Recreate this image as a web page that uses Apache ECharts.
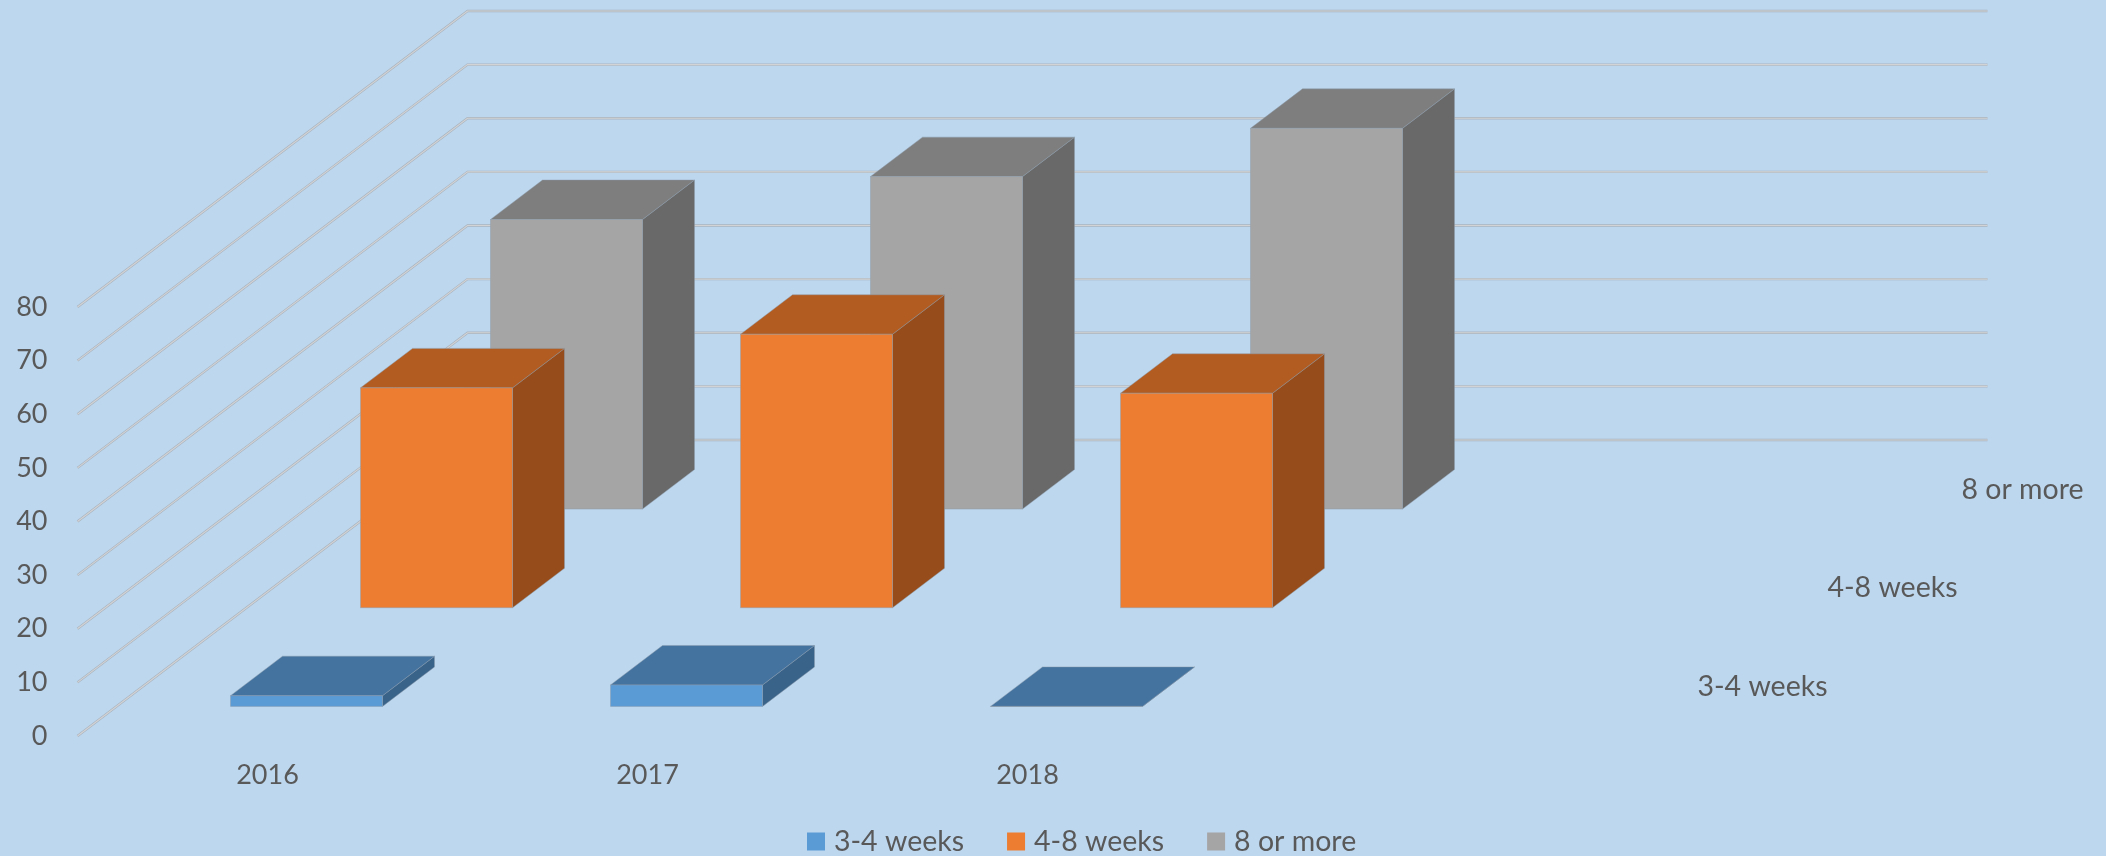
<!DOCTYPE html>
<html>
<head>
<meta charset="utf-8">
<title>Weeks by year</title>
<script src="https://cdn.jsdelivr.net/npm/echarts@6/dist/echarts.min.js"></script>
<style>
  html, body { margin: 0; padding: 0; background: #BDD7EE; }
  #chart { width: 2106px; height: 856px; }
</style>
</head>
<body>
<div id="chart"></div>
<script>
const categories = ['2016', '2017', '2018', ''];
const yTicks = [0, 10, 20, 30, 40, 50, 60, 70, 80];
const depthLabels = ['3-4 weeks', '4-8 weeks', '8 or more'];
const weeks3to4 = [2, 4, 0];
const weeks4to8 = [41, 51, 40];
const weeks8plus = [54, 62, 71];

const FONT = 'Lato';
const TEXT_COLOR = '#595959';

// how far the floor runs back from the front plane, in pixels
const DEPTH_X = 390;
const DEPTH_Y = 296;
const ROW_COUNT = depthLabels.length;

const colors = [
    { front: '#5B9BD5', top: '#44739F', side: '#3A6389' },
    { front: '#ED7D31', top: '#B35C21', side: '#974D1B' },
    { front: '#A5A5A5', top: '#7E7E7E', side: '#696969' }
];

// Each bar is three polygons, pushed back along the floor by its row
function barRenderer(row) {
    return function (params, api) {
        const c = colors[row];
        const band = api.size([1, 0])[0];
        const barW = band * 0.4;
        const shiftX = DEPTH_X / ROW_COUNT * (row + 0.3);
        const shiftY = DEPTH_Y / ROW_COUNT * (row + 0.3);
        const deep = 0.4 / ROW_COUNT;
        const dx = DEPTH_X * deep;
        const dy = DEPTH_Y * deep;

        const topPt = api.coord([api.value(0), api.value(1)]);
        const basePt = api.coord([api.value(0), 0]);
        const x0 = topPt[0] - barW / 2 + shiftX;
        const x1 = x0 + barW;
        const yTop = topPt[1] - shiftY;
        const yBase = basePt[1] - shiftY;
        const edge = (fill) => ({ fill: fill, stroke: 'rgba(140,155,170,0.45)', lineWidth: 1 });

        return {
            type: 'group',
            children: [
                { type: 'polygon', shape: { points: [[x1, yTop], [x1 + dx, yTop - dy], [x1 + dx, yBase - dy], [x1, yBase]] }, style: edge(c.side) },
                { type: 'polygon', shape: { points: [[x0, yTop], [x0 + dx, yTop - dy], [x1 + dx, yTop - dy], [x1, yTop]] }, style: edge(c.top) },
                { type: 'rect', shape: { x: x0, y: yTop, width: barW, height: yBase - yTop }, style: edge(c.front) }
            ]
        };
    };
}

// Gridlines: up the left wall, then across the back wall
function renderWall(params, api) {
    const sys = params.coordSys;
    const y = api.coord([0, api.value(0)])[1];
    const points = [[sys.x, y], [sys.x + DEPTH_X, y - DEPTH_Y], [sys.x + DEPTH_X + sys.width, y - DEPTH_Y]];
    return {
        type: 'group',
        children: [
            { type: 'polyline', shape: { points: points }, style: { fill: 'none', stroke: '#A9B4BF', lineWidth: 2.4 } },
            { type: 'polyline', shape: { points: points }, style: { fill: 'none', stroke: '#D2D3D5', lineWidth: 1.2 } }
        ]
    };
}

// Series names along the right of the floor
function renderDepthLabel(params, api) {
    const sys = params.coordSys;
    const row = api.value(0);
    return {
        type: 'text',
        style: {
            text: depthLabels[row],
            x: sys.x + sys.width + DEPTH_X / ROW_COUNT * (row + 0.5) + 100,
            y: sys.y + sys.height - DEPTH_Y / ROW_COUNT * (row + 0.5),
            align: 'center',
            verticalAlign: 'middle',
            fill: TEXT_COLOR,
            fontSize: 28.5,
            fontFamily: FONT
        }
    };
}

function barSeries(name, values, row) {
    return {
        name: name,
        type: 'custom',
        coordinateSystem: 'cartesian2d',
        renderItem: barRenderer(row),
        itemStyle: { color: colors[row].front },
        encode: { x: 0, y: 1 },
        data: values.map((v, i) => [i, v]),
        z: 5 - row
    };
}

const chart = echarts.init(document.getElementById('chart'));
chart.setOption({
    backgroundColor: '#BDD7EE',
    animation: false,
    tooltip: { show: false },
    grid: { left: 77.5, top: 307, width: 1520, height: 429 },
    legend: {
        data: depthLabels,
        left: 807,
        top: 827,
        padding: 0,
        icon: 'rect',
        itemWidth: 18,
        itemHeight: 18,
        itemGap: 43,
        textStyle: { color: TEXT_COLOR, fontSize: 28.5, fontFamily: FONT, padding: [0, 0, 8, 4] }
    },
    xAxis: {
        type: 'category',
        data: categories,
        axisLine: { show: false },
        axisTick: { show: false },
        axisLabel: { color: TEXT_COLOR, fontSize: 27, fontFamily: FONT, margin: 26 }
    },
    yAxis: {
        type: 'value',
        min: 0,
        max: 80,
        interval: 10,
        splitLine: { show: false },
        axisLine: { show: false },
        axisTick: { show: false },
        axisLabel: { color: TEXT_COLOR, fontSize: 27, fontFamily: FONT, margin: 30 }
    },
    series: [
        { type: 'custom', name: 'walls', renderItem: renderWall, data: yTicks.map(v => [v]), encode: { y: 0 }, silent: true, z: 1 },
        { type: 'custom', name: 'depth', renderItem: renderDepthLabel, data: depthLabels.map((n, i) => [i]), silent: true, z: 1 },
        barSeries(depthLabels[2], weeks8plus, 2),
        barSeries(depthLabels[1], weeks4to8, 1),
        barSeries(depthLabels[0], weeks3to4, 0)
    ]
});
</script>
</body>
</html>
